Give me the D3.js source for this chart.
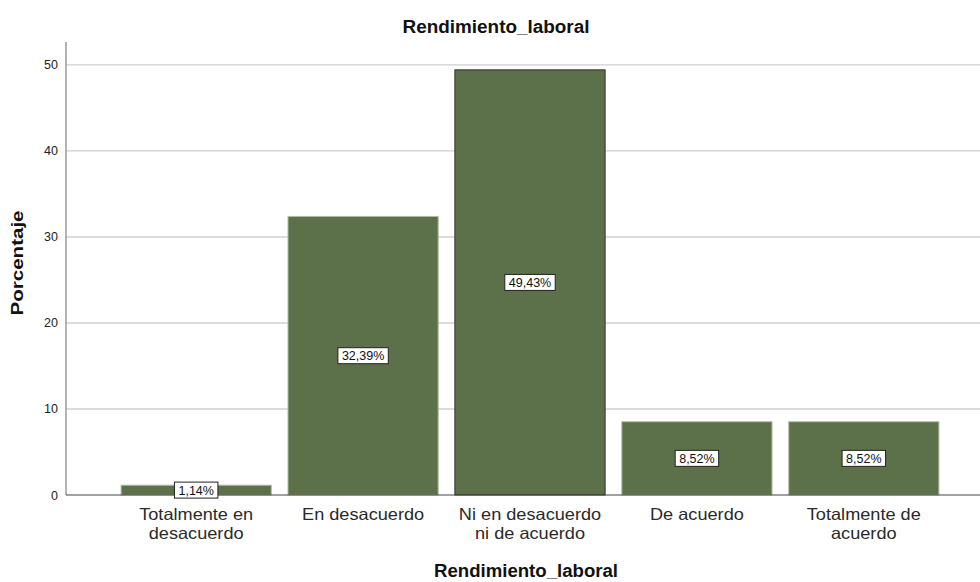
<!DOCTYPE html>
<html>
<head>
<meta charset="utf-8">
<script src="https://cdn.jsdelivr.net/npm/d3@7/dist/d3.min.js"></script>
<style>
  body { margin: 0; background: #fff; }
  text { font-family: "Liberation Sans", Arial, sans-serif; }
</style>
</head>
<body>
<svg id="chart" width="980" height="582"></svg>
<script>
const categories = [
  ["Totalmente en", "desacuerdo"],
  ["En desacuerdo"],
  ["Ni en desacuerdo", "ni de acuerdo"],
  ["De acuerdo"],
  ["Totalmente de", "acuerdo"]
];
const percentages = [1.14, 32.39, 49.43, 8.52, 8.52];
const yTicks = [0, 10, 20, 30, 40, 50];
const title = "Rendimiento_laboral";
const xTitle = "Rendimiento_laboral";
const yTitle = "Porcentaje";

const svg = d3.select("#chart");
const width = +svg.attr("width");

const plotLeft = 66, plotBottom = 495, plotTop = 42;
const keys = categories.map(c => c.join(" "));

const x = d3.scaleBand()
    .domain(keys)
    .range([plotLeft, 994])
    .paddingInner(0.1)
    .paddingOuter(0.33);

const y = d3.scaleLinear()
    .domain([0, 52.67])
    .range([plotBottom, plotTop]);

// gridlines
svg.selectAll(".grid")
    .data(yTicks.filter(d => d > 0))
    .enter().append("line")
    .attr("x1", plotLeft).attr("x2", width)
    .attr("y1", d => y(d)).attr("y2", d => y(d))
    .attr("stroke", "#cfcfcf")
    .attr("stroke-width", 1.3);

// bars
svg.selectAll(".bar")
    .data(percentages)
    .enter().append("rect")
    .attr("x", (d, i) => x(keys[i]))
    .attr("y", d => y(d))
    .attr("width", x.bandwidth())
    .attr("height", d => y(0) - y(d))
    .attr("fill", "#5c7049")
    .attr("stroke", (d, i) => i === 2 ? "#2e2e2e" : "#b3bda6")
    .attr("stroke-width", 1);

// y axis (labels only, SPSS style)
const yAxis = svg.append("g")
    .attr("transform", `translate(${plotLeft},0)`)
    .call(d3.axisLeft(y).tickValues(yTicks).tickSize(0).tickPadding(8));
yAxis.select(".domain").remove();
yAxis.selectAll("text")
    .attr("font-size", 12.5)
    .attr("font-family", "Liberation Sans, Arial, sans-serif")
    .attr("fill", "#222");

svg.append("line")
    .attr("x1", plotLeft).attr("x2", plotLeft)
    .attr("y1", plotTop).attr("y2", plotBottom)
    .attr("stroke", "#9a9a9a").attr("stroke-width", 1.5);

svg.append("line")
    .attr("x1", plotLeft).attr("x2", width)
    .attr("y1", plotBottom).attr("y2", plotBottom)
    .attr("stroke", "#444").attr("stroke-width", 1.2);

// category labels, one text per line, a bit wider like the SPSS font
categories.forEach((lines, i) => {
  lines.forEach((line, j) => {
    const t = svg.append("text")
        .attr("text-anchor", "middle")
        .attr("font-size", 16.5)
        .attr("fill", "#2a2a2a")
        .attr("x", x(keys[i]) + x.bandwidth() / 2)
        .attr("y", 520 + j * 18.5)
        .text(line);
    t.attr("textLength", t.node().getComputedTextLength() * 1.1)
        .attr("lengthAdjust", "spacingAndGlyphs");
  });
});

// value labels in boxes
const fmt = v => v.toFixed(2).replace(".", ",") + "%";
const lab = svg.selectAll(".lab")
    .data(percentages)
    .enter().append("g")
    .attr("transform", (d, i) =>
        `translate(${x(keys[i]) + x.bandwidth() / 2},${(y(d) + y(0)) / 2})`);
lab.append("text")
    .attr("text-anchor", "middle")
    .attr("dy", "0.36em")
    .attr("font-size", 12.5)
    .attr("fill", "#111")
    .text(fmt);
lab.each(function() {
  const g = d3.select(this);
  const b = g.select("text").node().getBBox();
  g.insert("rect", "text")
      .attr("x", b.x - 4).attr("y", -8)
      .attr("width", b.width + 8).attr("height", 16)
      .attr("fill", "#fff")
      .attr("stroke", "#222")
      .attr("stroke-width", 1);
});

// titles
svg.append("text")
    .attr("x", 496).attr("y", 33)
    .attr("text-anchor", "middle")
    .attr("font-size", 18).attr("font-weight", "bold")
    .attr("textLength", 187).attr("lengthAdjust", "spacingAndGlyphs")
    .attr("fill", "#111")
    .text(title);

svg.append("text")
    .attr("x", 526).attr("y", 577)
    .attr("text-anchor", "middle")
    .attr("font-size", 18).attr("font-weight", "bold")
    .attr("textLength", 184).attr("lengthAdjust", "spacingAndGlyphs")
    .attr("fill", "#111")
    .text(xTitle);

svg.append("text")
    .attr("transform", "translate(23,263) rotate(-90)")
    .attr("text-anchor", "middle")
    .attr("font-size", 17).attr("font-weight", "bold")
    .attr("textLength", 105).attr("lengthAdjust", "spacingAndGlyphs")
    .attr("fill", "#111")
    .text(yTitle);
</script>
</body>
</html>
